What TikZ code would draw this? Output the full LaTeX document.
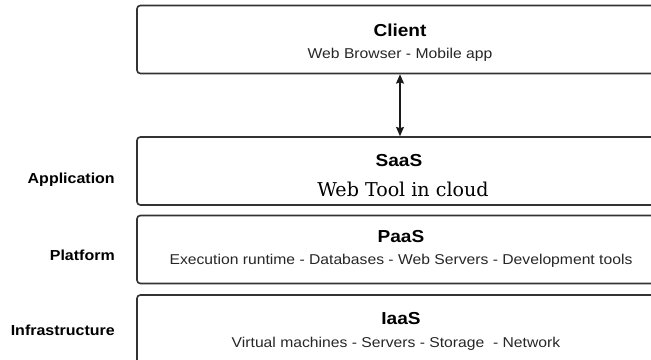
\documentclass[tikz,border=0pt]{standalone}
\usepackage{fontspec}
\setmainfont{Liberation Sans}[FakeStretch=1.1]
\newfontfamily\slabfont{DejaVu Serif}
\usetikzlibrary{arrows.meta}

\begin{document}
\begin{tikzpicture}[>={Stealth[length=7pt, width=6pt, inset=1pt]}, x=0.75pt, y=-0.75pt,
        layer/.style={draw=black!80, line width=1.2pt, rounded corners=2.5pt,
            minimum width=394.5pt, minimum height=51pt, inner sep=0pt},
        title/.style={font=\bfseries\fontsize{13}{15}\selectfont, anchor=base, inner sep=0pt},
        detail/.style={font=\fontsize{10.7}{12}\selectfont, text=black!85, anchor=base, inner sep=0pt},
        side/.style={font=\bfseries\fontsize{10.9}{12}\selectfont, anchor=base east, inner sep=0pt}]
    \useasboundingbox (0,0) rectangle (651,360);
    \clip (0,0) rectangle (651,360);

    % layers
    \node[layer] (client) at (400, 39.5) {};
    \node[layer] (saas) at (400, 171) {};
    \node[layer] (paas) at (400, 249.5) {};
    \node[layer] (iaas) at (400, 329) {};

    \node[title] (clientname) at (400, 37) {Client};
    \node[detail] (clienttxt) at (400, 59) {Web Browser - Mobile app};
    \node[title] (saasname) at (399, 167) {SaaS};
    \node[font=\slabfont\fontsize{14.3}{16}\selectfont, anchor=base, inner sep=0pt] (saastxt) at (403, 197) {Web Tool in cloud};
    \node[title] (paasname) at (401, 243) {PaaS};
    \node[detail] (paastxt) at (401, 264) {Execution runtime - Databases - Web Servers - Development tools};
    \node[title] (iaasname) at (401, 325) {IaaS};
    \node[detail] (iaastxt) at (396, 348) {Virtual machines - Servers - Storage \ - Network};

    % levels
    \node[side] (app) at (115, 184) {Application};
    \node[side] (plat) at (115, 261) {Platform};
    \node[side] (infra) at (115, 335) {Infrastructure};

    \draw[<->, line width=1pt, black!90] (client) -- (saas);
\end{tikzpicture}
\end{document}
